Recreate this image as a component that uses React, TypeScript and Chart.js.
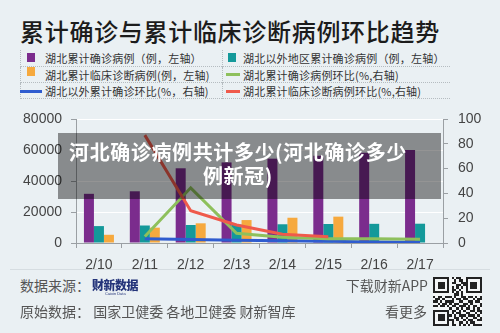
import React, { useEffect, useRef } from "react";
import { Chart, registerables } from "chart.js";
Chart.register(...registerables);

const categories = ["2/10", "2/11", "2/12", "2/13", "2/14", "2/15", "2/16", "2/17"];
const hubeiConfirmed = [31728, 33366, 48206, 51986, 54406, 56249, 58182, 59989];
const outsideConfirmed = [10910, 11287, 11598, 11865, 12086, 12251, 12366, 12447];
const hubeiClinical = [5300, 9900, 12700, 14800, 16300, 17000, null, null];
const hubeiConfirmedGrowth = [null, 5.2, 44.5, 7.8, 4.7, 3.4, 3.4, 3.1];
const outsideGrowth = [null, 3.5, 2.8, 2.3, 1.9, 1.4, 0.9, 0.7];
const clinicalGrowth = [null, 87, 26, 14.5, 7, 5, null, null];
const leftTickLabels = ["0", "20000", "40000", "60000", "80000"];
const rightTickLabels = ["0", "20", "40", "60", "80", "100"];

const TITLE = "累计确诊与累计临床诊断病例环比趋势";
const BANNER_LINES = ["河北确诊病例共计多少(河北确诊多少", "例新冠)"];
const LEGEND_LABELS = [
  "湖北累计确诊病例（例，左轴）",
  "湖北以外地区累计确诊病例（例，左轴）",
  "湖北累计临床诊断病例(例，左轴)",
  "湖北累计确诊病例环比(%,右轴)",
  "湖北以外累计确诊环比(%，右轴)",
  "湖北累计临床诊断病例环比(%,右轴)",
];

const PURPLE = "#7b2c8d";
const TEAL = "#14999a";
const ORANGE = "#f6a93e";
const GREEN = "#8ec05c";
const BLUE = "#2f5ccf";
const RED = "#ef5a4b";
const AXIS = "#9a9fa3";
const TICK = "#444";
const BG = "#eaf0f3";
const CJK = '"Noto Sans CJK SC", "Noto Sans", sans-serif';
const NUM = '"Liberation Sans", Arial, sans-serif';

const QR = [
  "111111101011001111111",
  "100000100101101000001",
  "101110101100111011101",
  "101110100011011011101",
  "101110101010101011101",
  "100000101101001000001",
  "111111101010101111111",
  "000000000110100000000",
  "101101110100110110101",
  "011010001011011001011",
  "110101111001100110110",
  "001011010110011010001",
  "110110101101110101101",
  "000000010010101101010",
  "111111101101010011011",
  "100000101011001100101",
  "101110110101110111010",
  "101110100110101001101",
  "101110111010010110011",
  "100000101001101011000",
  "111111101101010101111",
];

function Text(props: { x: number; cy: number; size: number; color: string; children: any; weight?: number; right?: boolean; spacing?: number; family?: string }) {
  const lh = Math.round(props.size * 1.3);
  const style: any = {
    position: "absolute",
    top: props.cy - lh / 2,
    fontSize: props.size,
    lineHeight: lh + "px",
    color: props.color,
    fontWeight: props.weight || 400,
    whiteSpace: "nowrap",
    letterSpacing: props.spacing || 0,
    fontFamily: props.family || CJK,
  };
  if (props.right) style.right = 500 - props.x;
  else style.left = props.x;
  return <div style={style}>{props.children}</div>;
}

export default function App() {
  const ref = useRef<HTMLCanvasElement>(null);
  useEffect(() => {
    const canvas = ref.current!;
    const chart = new Chart(canvas, {
      type: "bar",
      data: {
        labels: categories,
        datasets: [
          { type: "line", label: LEGEND_LABELS[5], data: clinicalGrowth, borderColor: RED, backgroundColor: RED, borderWidth: 3, pointRadius: 0, yAxisID: "yR", order: 0 },
          { type: "line", label: LEGEND_LABELS[3], data: hubeiConfirmedGrowth, borderColor: GREEN, backgroundColor: GREEN, borderWidth: 3, pointRadius: 0, yAxisID: "yR", order: 0 },
          { type: "line", label: LEGEND_LABELS[4], data: outsideGrowth, borderColor: BLUE, backgroundColor: BLUE, borderWidth: 3, pointRadius: 0, yAxisID: "yR", order: 0 },
          { type: "bar", label: LEGEND_LABELS[0], data: hubeiConfirmed, backgroundColor: PURPLE, yAxisID: "yL", order: 1 },
          { type: "bar", label: LEGEND_LABELS[1], data: outsideConfirmed, backgroundColor: TEAL, yAxisID: "yL", order: 1 },
          { type: "bar", label: LEGEND_LABELS[2], data: hubeiClinical, backgroundColor: ORANGE, yAxisID: "yL", order: 1 },
        ] as any,
      },
      options: {
        responsive: false,
        animation: false,
        devicePixelRatio: 1,
        plugins: { legend: { display: false }, tooltip: { enabled: false } },
        layout: { padding: { top: 19, left: 0, right: 0, bottom: 0 } },
        datasets: { bar: { categoryPercentage: 0.654, barPercentage: 1 } } as any,
        scales: {
          x: {
            offset: true,
            grid: { display: true, drawOnChartArea: false, tickLength: 5, tickColor: AXIS, offset: true },
            border: { display: true, color: AXIS },
            ticks: { color: TICK, font: { family: NUM, size: 14 }, padding: 9, maxRotation: 0, autoSkip: false },
            afterFit: (s: any) => { s.height = 32; },
          },
          yL: {
            position: "left",
            min: 0,
            max: 80000,
            ticks: { stepSize: 20000, color: TICK, font: { family: NUM, size: 14 }, padding: 9, callback: (_v: any, i: number) => leftTickLabels[i] },
            grid: { color: "#ffffff", lineWidth: 1, tickColor: AXIS, tickLength: 5 },
            border: { display: true, color: AXIS },
            afterFit: (s: any) => { s.width = 76; },
          },
          yR: {
            position: "right",
            min: 0,
            max: 100,
            ticks: { stepSize: 20, color: TICK, font: { family: NUM, size: 14 }, padding: 10, callback: (_v: any, i: number) => rightTickLabels[i] },
            grid: { drawOnChartArea: false, tickColor: AXIS, tickLength: 5 },
            border: { display: true, color: AXIS },
            afterFit: (s: any) => { s.width = 57; },
          },
        } as any,
      },
    });
    return () => chart.destroy();
  }, []);

  const legendColors = [PURPLE, TEAL, ORANGE, GREEN, BLUE, RED];
  const legendKinds = ["box", "box", "box", "line", "line", "line"];
  const rowY = [58, 75, 91];
  const rowTop = [50, 67, 83, 99];
  const colX = [20, 222];
  const colW = [202, 228];

  return (
    <div style={{ position: "fixed", left: 0, top: 0, width: 500, height: 333, background: BG, overflow: "hidden", fontFamily: CJK }}>
      <Text x={20} cy={30} size={24} color="#1c1c1c" weight={500} spacing={0.7}>{TITLE}</Text>

      {[0, 1, 2].map((r) =>
        [0, 1].map((c) => (
          <div key={"cell" + r + c} style={{ position: "absolute", left: colX[c], top: rowTop[r], width: colW[c], height: rowTop[r + 1] - rowTop[r], borderLeft: "1px dotted #b5bcc0", borderBottom: "1px dotted #b5bcc0", boxSizing: "border-box" }} />
        ))
      )}
      {LEGEND_LABELS.map((lab, i) => {
        const r = Math.floor(i / 2);
        const c = i % 2;
        const cy = rowY[r];
        const marker = legendKinds[i] === "box"
          ? <div style={{ position: "absolute", left: c === 0 ? 27 : 228, top: cy - 5 - (r === 1 ? 3 : 0), width: 8, height: 9, background: legendColors[i] }} />
          : <div style={{ position: "absolute", left: c === 0 ? 20 : 226, top: cy - 1 - (r === 1 ? 1 : 0), width: c === 0 ? 22 : 14, height: 3, background: legendColors[i] }} />;
        return (
          <React.Fragment key={"lg" + i}>
            {marker}
            <Text x={c === 0 ? 45 : 243} cy={cy} size={11} color="#333" spacing={0.2}>{lab}</Text>
          </React.Fragment>
        );
      })}

      <canvas ref={ref} width={500} height={175} style={{ position: "absolute", left: 0, top: 100, width: 500, height: 175 }} />

      <div style={{ position: "absolute", left: 58, top: 133, width: 383, height: 66, background: "rgba(0,0,0,0.42)" }} />
      <div style={{ position: "absolute", left: 58, top: 140, width: 360, textAlign: "center", color: "#fff", fontWeight: 700, fontSize: 20, lineHeight: "24px", letterSpacing: 0.6, whiteSpace: "nowrap", fontFamily: CJK }}>
        {BANNER_LINES.map((l, i) => <div key={i}>{l}</div>)}
      </div>

      <div style={{ position: "absolute", left: 10, top: 269, width: 480, height: 1, background: "#d6dde1" }} />
      <Text x={20} cy={285} size={14} color="#555">数据来源：</Text>
      <Text x={92} cy={285} size={12} color="#24347a" weight={900} spacing={-0.5}>财新数据</Text>
      <div style={{ position: "absolute", left: 105, top: 292, fontSize: 4, lineHeight: "4px", color: "#24347a", fontFamily: NUM }}>Caixin Data</div>
      <Text x={20} cy={311} size={14} color="#555">原始数据： 国家卫健委 各地卫健委 财新智库</Text>
      <Text x={428} cy={285} size={14} color="#555" right>下载财新APP</Text>
      <Text x={427} cy={311} size={14} color="#555" right>看更多</Text>
      <svg style={{ position: "absolute", left: 433, top: 277 }} width={49} height={49} viewBox="0 0 21 21" shapeRendering="crispEdges">
        <rect x={0} y={0} width={21} height={21} fill="#f4f6f7" />
        {QR.map((row, y) => row.split("").map((ch, x) => ch === "1" ? <rect key={x + "-" + y} x={x} y={y} width={1} height={1} fill="#222" /> : null))}
      </svg>
    </div>
  );
}
